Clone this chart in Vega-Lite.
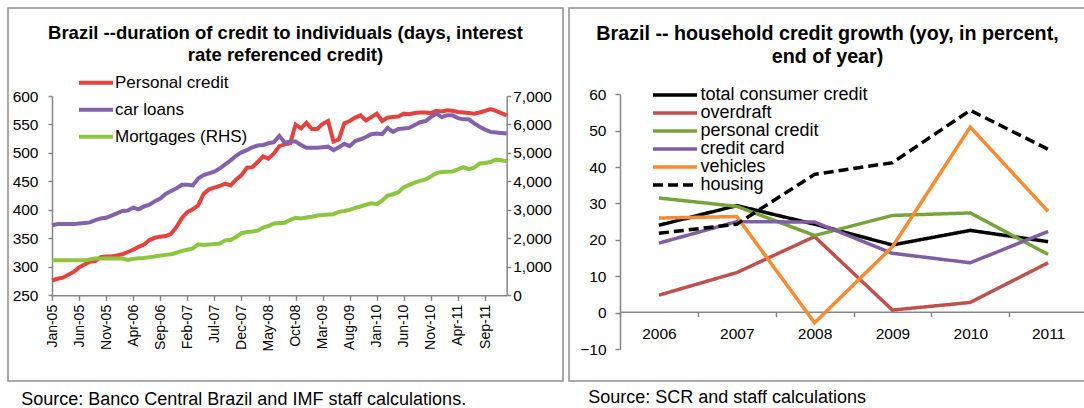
{
  "$schema": "https://vega.github.io/schema/vega-lite/v6.json",
  "padding": {"left": 7, "top": 7, "right": 0, "bottom": 0},
  "spacing": 4,
  "config": {
    "font": "Liberation Sans",
    "view": {"stroke": "#8f8f8f", "strokeWidth": 1.5},
    "axis": {"grid": false, "domainColor": "#868686", "tickColor": "#868686", "domainWidth": 1.5, "tickWidth": 1.5, "labelColor": "#000000", "labelFont": "Liberation Sans", "title": null},
    "legend": {"labelFont": "Liberation Sans", "labelColor": "#000000", "labelLimit": 400},
    "title": {"font": "Liberation Sans", "color": "#000000"}
  },
  "resolve": {"scale": {"color": "independent", "strokeDash": "independent"}, "legend": {"color": "independent", "strokeDash": "independent"}},
  "datasets": {
    "credit": [
      {"month": "Jan-05", "personal": 276, "car": 373, "mortgage": 1230},
      {"month": "Feb-05", "personal": 279, "car": 375, "mortgage": 1230},
      {"month": "Mar-05", "personal": 281, "car": 375, "mortgage": 1230},
      {"month": "Apr-05", "personal": 286, "car": 375, "mortgage": 1230},
      {"month": "May-05", "personal": 291, "car": 375, "mortgage": 1230},
      {"month": "Jun-05", "personal": 299, "car": 376, "mortgage": 1230},
      {"month": "Jul-05", "personal": 304, "car": 377, "mortgage": 1230},
      {"month": "Aug-05", "personal": 309, "car": 378, "mortgage": 1260},
      {"month": "Sep-05", "personal": 310, "car": 382, "mortgage": 1290},
      {"month": "Oct-05", "personal": 317, "car": 385, "mortgage": 1290},
      {"month": "Nov-05", "personal": 318, "car": 386, "mortgage": 1290},
      {"month": "Dec-05", "personal": 318, "car": 390, "mortgage": 1290},
      {"month": "Jan-06", "personal": 320, "car": 394, "mortgage": 1290},
      {"month": "Feb-06", "personal": 322, "car": 398, "mortgage": 1290},
      {"month": "Mar-06", "personal": 326, "car": 399, "mortgage": 1240},
      {"month": "Apr-06", "personal": 330, "car": 404, "mortgage": 1280},
      {"month": "May-06", "personal": 335, "car": 401, "mortgage": 1300},
      {"month": "Jun-06", "personal": 339, "car": 406, "mortgage": 1310},
      {"month": "Jul-06", "personal": 347, "car": 409, "mortgage": 1340},
      {"month": "Aug-06", "personal": 351, "car": 415, "mortgage": 1360},
      {"month": "Sep-06", "personal": 353, "car": 420, "mortgage": 1400},
      {"month": "Oct-06", "personal": 354, "car": 428, "mortgage": 1420},
      {"month": "Nov-06", "personal": 358, "car": 433, "mortgage": 1440},
      {"month": "Dec-06", "personal": 370, "car": 438, "mortgage": 1500},
      {"month": "Jan-07", "personal": 386, "car": 444, "mortgage": 1560},
      {"month": "Feb-07", "personal": 396, "car": 444, "mortgage": 1600},
      {"month": "Mar-07", "personal": 401, "car": 443, "mortgage": 1650},
      {"month": "Apr-07", "personal": 408, "car": 455, "mortgage": 1790},
      {"month": "May-07", "personal": 428, "car": 461, "mortgage": 1770},
      {"month": "Jun-07", "personal": 436, "car": 464, "mortgage": 1780},
      {"month": "Jul-07", "personal": 439, "car": 467, "mortgage": 1800},
      {"month": "Aug-07", "personal": 442, "car": 473, "mortgage": 1820},
      {"month": "Sep-07", "personal": 446, "car": 480, "mortgage": 1930},
      {"month": "Oct-07", "personal": 443, "car": 487, "mortgage": 1940},
      {"month": "Nov-07", "personal": 453, "car": 495, "mortgage": 2050},
      {"month": "Dec-07", "personal": 461, "car": 501, "mortgage": 2180},
      {"month": "Jan-08", "personal": 474, "car": 505, "mortgage": 2220},
      {"month": "Feb-08", "personal": 475, "car": 510, "mortgage": 2240},
      {"month": "Mar-08", "personal": 484, "car": 513, "mortgage": 2270},
      {"month": "Apr-08", "personal": 494, "car": 514, "mortgage": 2380},
      {"month": "May-08", "personal": 490, "car": 517, "mortgage": 2440},
      {"month": "Jun-08", "personal": 499, "car": 519, "mortgage": 2520},
      {"month": "Jul-08", "personal": 512, "car": 530, "mortgage": 2540},
      {"month": "Aug-08", "personal": 515, "car": 518, "mortgage": 2550},
      {"month": "Sep-08", "personal": 517, "car": 520, "mortgage": 2650},
      {"month": "Oct-08", "personal": 550, "car": 520, "mortgage": 2720},
      {"month": "Nov-08", "personal": 543, "car": 514, "mortgage": 2700},
      {"month": "Dec-08", "personal": 553, "car": 509, "mortgage": 2730},
      {"month": "Jan-09", "personal": 542, "car": 509, "mortgage": 2760},
      {"month": "Feb-09", "personal": 542, "car": 509, "mortgage": 2800},
      {"month": "Mar-09", "personal": 551, "car": 510, "mortgage": 2820},
      {"month": "Apr-09", "personal": 556, "car": 511, "mortgage": 2840},
      {"month": "May-09", "personal": 520, "car": 505, "mortgage": 2850},
      {"month": "Jun-09", "personal": 524, "car": 510, "mortgage": 2930},
      {"month": "Jul-09", "personal": 552, "car": 516, "mortgage": 2960},
      {"month": "Aug-09", "personal": 556, "car": 512, "mortgage": 3000},
      {"month": "Sep-09", "personal": 562, "car": 521, "mortgage": 3070},
      {"month": "Oct-09", "personal": 566, "car": 524, "mortgage": 3120},
      {"month": "Nov-09", "personal": 557, "car": 528, "mortgage": 3180},
      {"month": "Dec-09", "personal": 563, "car": 533, "mortgage": 3230},
      {"month": "Jan-10", "personal": 569, "car": 534, "mortgage": 3200},
      {"month": "Feb-10", "personal": 556, "car": 533, "mortgage": 3330},
      {"month": "Mar-10", "personal": 562, "car": 544, "mortgage": 3500},
      {"month": "Apr-10", "personal": 563, "car": 537, "mortgage": 3550},
      {"month": "May-10", "personal": 564, "car": 542, "mortgage": 3620},
      {"month": "Jun-10", "personal": 569, "car": 543, "mortgage": 3800},
      {"month": "Jul-10", "personal": 568, "car": 544, "mortgage": 3880},
      {"month": "Aug-10", "personal": 570, "car": 549, "mortgage": 3960},
      {"month": "Sep-10", "personal": 571, "car": 554, "mortgage": 4020},
      {"month": "Oct-10", "personal": 571, "car": 556, "mortgage": 4070},
      {"month": "Nov-10", "personal": 570, "car": 563, "mortgage": 4170},
      {"month": "Dec-10", "personal": 574, "car": 569, "mortgage": 4290},
      {"month": "Jan-11", "personal": 573, "car": 563, "mortgage": 4330},
      {"month": "Feb-11", "personal": 575, "car": 566, "mortgage": 4340},
      {"month": "Mar-11", "personal": 574, "car": 566, "mortgage": 4350},
      {"month": "Apr-11", "personal": 572, "car": 561, "mortgage": 4420},
      {"month": "May-11", "personal": 571, "car": 559, "mortgage": 4500},
      {"month": "Jun-11", "personal": 570, "car": 559, "mortgage": 4430},
      {"month": "Jul-11", "personal": 569, "car": 552, "mortgage": 4480},
      {"month": "Aug-11", "personal": 571, "car": 546, "mortgage": 4630},
      {"month": "Sep-11", "personal": 574, "car": 541, "mortgage": 4650},
      {"month": "Oct-11", "personal": 577, "car": 537, "mortgage": 4680},
      {"month": "Nov-11", "personal": 574, "car": 536, "mortgage": 4770},
      {"month": "Dec-11", "personal": 570, "car": 535, "mortgage": 4740},
      {"month": "Jan-12", "personal": 566, "car": 534, "mortgage": 4710}
    ],
    "growth": [
      {"year": "2006", "s": "total consumer credit", "v": 24.0},
      {"year": "2007", "s": "total consumer credit", "v": 29.4},
      {"year": "2008", "s": "total consumer credit", "v": 24.3},
      {"year": "2009", "s": "total consumer credit", "v": 18.6},
      {"year": "2010", "s": "total consumer credit", "v": 22.6},
      {"year": "2011", "s": "total consumer credit", "v": 19.5},
      {"year": "2006", "s": "overdraft", "v": 4.8},
      {"year": "2007", "s": "overdraft", "v": 11.0},
      {"year": "2008", "s": "overdraft", "v": 20.9},
      {"year": "2009", "s": "overdraft", "v": 0.7},
      {"year": "2010", "s": "overdraft", "v": 2.8},
      {"year": "2011", "s": "overdraft", "v": 13.7},
      {"year": "2006", "s": "personal credit", "v": 31.5},
      {"year": "2007", "s": "personal credit", "v": 29.2},
      {"year": "2008", "s": "personal credit", "v": 21.2},
      {"year": "2009", "s": "personal credit", "v": 26.7},
      {"year": "2010", "s": "personal credit", "v": 27.4},
      {"year": "2011", "s": "personal credit", "v": 16.0},
      {"year": "2006", "s": "credit card", "v": 19.1},
      {"year": "2007", "s": "credit card", "v": 25.0},
      {"year": "2008", "s": "credit card", "v": 24.9},
      {"year": "2009", "s": "credit card", "v": 16.3},
      {"year": "2010", "s": "credit card", "v": 13.7},
      {"year": "2011", "s": "credit card", "v": 22.3},
      {"year": "2006", "s": "vehicles", "v": 26.0},
      {"year": "2007", "s": "vehicles", "v": 26.4},
      {"year": "2008", "s": "vehicles", "v": -2.8},
      {"year": "2009", "s": "vehicles", "v": 18.1},
      {"year": "2010", "s": "vehicles", "v": 51.0},
      {"year": "2011", "s": "vehicles", "v": 27.8},
      {"year": "2006", "s": "housing", "v": 21.8},
      {"year": "2007", "s": "housing", "v": 24.3},
      {"year": "2008", "s": "housing", "v": 38.0},
      {"year": "2009", "s": "housing", "v": 41.2},
      {"year": "2010", "s": "housing", "v": 55.6},
      {"year": "2011", "s": "housing", "v": 44.9}
    ]
  },
  "hconcat": [
    {
      "title": {"text": "Source: Banco Central Brazil and IMF staff calculations.", "orient": "bottom", "anchor": "start", "fontSize": 18, "fontWeight": "normal", "dx": 14, "offset": 9},
      "vconcat": [
        {
          "width": 555,
          "height": 373,
          "title": {"text": ["Brazil --duration of credit to individuals (days, interest", "rate referenced credit)"], "fontSize": 18.5, "fontWeight": "bold", "lineHeight": 22, "offset": -56, "anchor": "middle"},
          "data": {"name": "credit"},
          "layer": [
            {
              "transform": [{"fold": ["personal", "car"], "as": ["s", "v"]}],
              "mark": {"type": "line", "strokeWidth": 4},
              "encoding": {
                "x": {"field": "month", "type": "ordinal", "sort": null,
                  "scale": {"type": "point", "padding": 0, "range": [44, 498.7]},
                  "axis": {"values": ["Jan-05", "Jun-05", "Nov-05", "Apr-06", "Sep-06", "Feb-07", "Jul-07", "Dec-07", "May-08", "Oct-08", "Mar-09", "Aug-09", "Jan-10", "Jun-10", "Nov-10", "Apr-11", "Sep-11"], "labelAngle": -90, "labelFontSize": 14, "tickSize": 5, "labelPadding": 4, "offset": -85.7}},
                "y": {"field": "v", "type": "quantitative",
                  "scale": {"domain": [250, 600], "range": [287.3, 88], "nice": false, "zero": false},
                  "axis": {"values": [250, 300, 350, 400, 450, 500, 550, 600], "offset": -44, "tickSize": 4, "labelFontSize": 15.5, "labelPadding": 10}},
                "color": {"field": "s", "type": "nominal",
                  "scale": {"domain": ["personal", "car", "mortgage"], "range": ["#E5423E", "#8462AB", "#8CC63E"]},
                  "legend": {"orient": "none", "legendX": 69, "legendY": 55.7, "title": null, "symbolType": "stroke", "symbolSize": 1156, "symbolStrokeWidth": 4, "labelFontSize": 17, "rowPadding": -2, "labelOffset": 0, "padding": 0,
                    "labelExpr": "datum.label == 'personal' ? 'Personal credit' : datum.label == 'car' ? 'car loans' : 'Mortgages (RHS)'"}}
              }
            },
            {
              "mark": {"type": "line", "strokeWidth": 4},
              "encoding": {
                "x": {"field": "month", "type": "ordinal", "sort": null},
                "y": {"field": "mortgage", "type": "quantitative",
                  "scale": {"domain": [0, 7000], "range": [287.3, 88], "nice": false},
                  "axis": {"orient": "right", "values": [0, 1000, 2000, 3000, 4000, 5000, 6000, 7000], "format": ",.0f", "offset": -56.3, "tickSize": 4, "labelFontSize": 15.5, "labelPadding": 2}},
                "color": {"datum": "mortgage", "type": "nominal"}
              }
            }
          ],
          "resolve": {"scale": {"y": "independent"}}
        }
      ]
    },
    {
      "title": {"text": "Source: SCR and staff calculations", "orient": "bottom", "anchor": "start", "fontSize": 18, "fontWeight": "normal", "dx": 20, "offset": 7},
      "vconcat": [
        {
          "width": 517,
          "height": 373,
          "title": {"text": ["Brazil -- household credit growth (yoy, in percent,", "end of year)"], "fontSize": 19.7, "fontWeight": "bold", "lineHeight": 22.5, "offset": -58.5, "anchor": "middle"},
          "data": {"name": "growth"},
          "mark": {"type": "line", "strokeWidth": 3.5},
          "encoding": {
            "x": {"field": "year", "type": "ordinal",
              "scale": {"type": "band", "range": [51, 518], "paddingInner": 0, "paddingOuter": 0},
              "axis": {"labelAngle": 0, "tickBand": "extent", "offset": -69.3, "tickSize": 5, "labelFontSize": 15.5, "labelPadding": 10}},
            "y": {"field": "v", "type": "quantitative",
              "scale": {"domain": [-10, 60], "range": [341, 86.3], "nice": false},
              "axis": {"values": [-10, 0, 10, 20, 30, 40, 50, 60], "offset": -51, "tickSize": 5, "labelFontSize": 15.5, "labelPadding": 9}},
            "color": {"field": "s", "type": "nominal", "sort": null,
              "scale": {"domain": ["total consumer credit", "overdraft", "personal credit", "credit card", "vehicles", "housing"], "range": ["#000000", "#C0504D", "#77A33B", "#7F5FA1", "#F68B33", "#000000"]},
              "legend": {"orient": "none", "legendX": 82, "legendY": 78, "title": null, "symbolType": "M-1,0L5.286,0", "symbolSize": 196, "symbolStrokeWidth": 3.5, "labelFontSize": 18, "rowPadding": 0, "labelOffset": 31.4, "padding": 0}},
            "strokeDash": {"field": "s", "type": "nominal", "sort": null,
              "scale": {"domain": ["total consumer credit", "overdraft", "personal credit", "credit card", "vehicles", "housing"], "range": [[1, 0], [1, 0], [1, 0], [1, 0], [1, 0], [10, 5]]},
              "legend": {"orient": "none", "legendX": 82, "legendY": 78, "title": null, "symbolType": "M-1,0L5.286,0", "symbolSize": 196, "symbolStrokeWidth": 3.5, "labelFontSize": 18, "rowPadding": 0, "labelOffset": 31.4, "padding": 0}}
          }
        }
      ]
    }
  ]
}
